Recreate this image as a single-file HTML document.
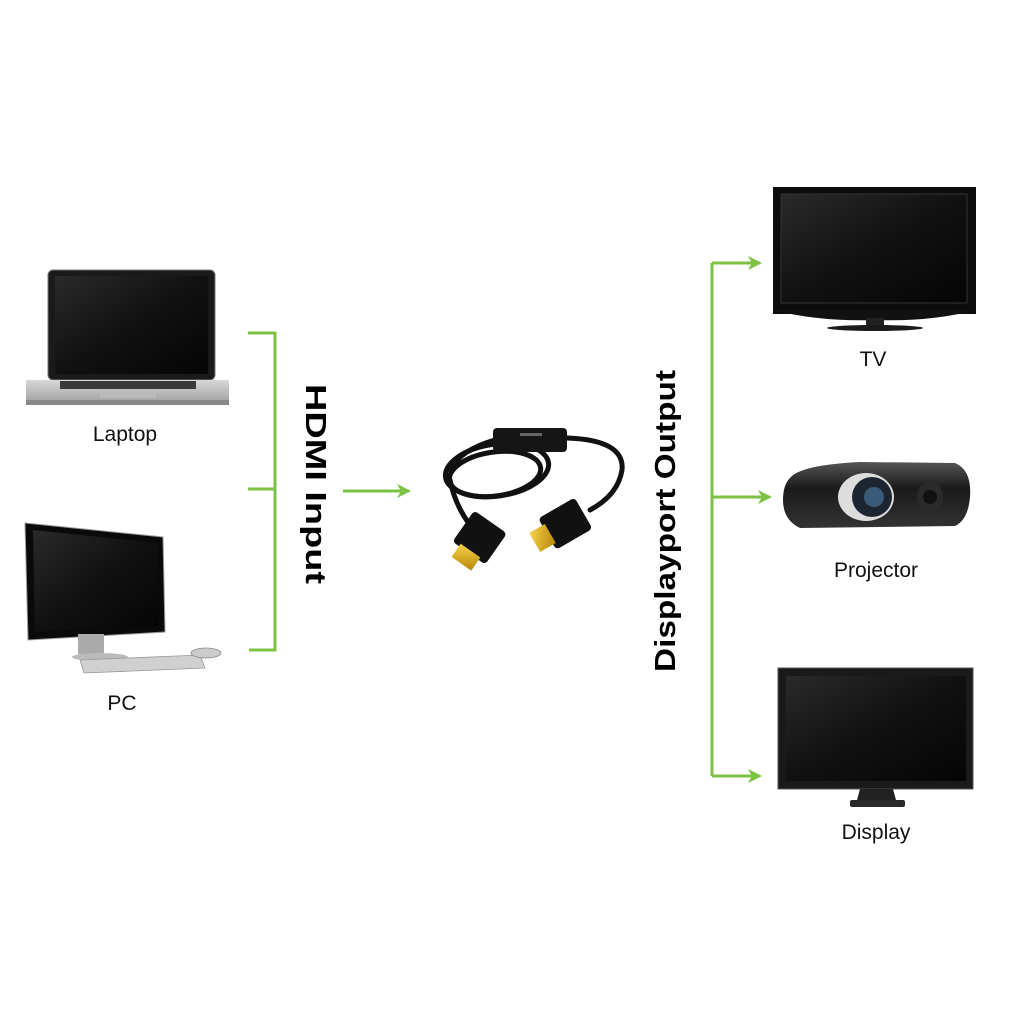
<!DOCTYPE html>
<html><head><meta charset="utf-8"><style>
html,body{margin:0;padding:0;background:#fff;}
svg{display:block;}
text{font-family:"Liberation Sans",sans-serif;}
</style></head><body>
<svg width="1024" height="1024" viewBox="0 0 1024 1024" xmlns="http://www.w3.org/2000/svg">
<defs>
<linearGradient id="scr" x1="0" y1="0" x2="1" y2="1"><stop offset="0" stop-color="#2a2a2a"/><stop offset="0.5" stop-color="#111"/><stop offset="1" stop-color="#050505"/></linearGradient>
<linearGradient id="alu" x1="0" y1="0" x2="0" y2="1"><stop offset="0" stop-color="#d8d8d8"/><stop offset="1" stop-color="#9a9a9a"/></linearGradient>
<linearGradient id="gold" x1="0" y1="0" x2="1" y2="1"><stop offset="0" stop-color="#f7d34a"/><stop offset="1" stop-color="#b8860b"/></linearGradient>
<linearGradient id="proj" x1="0" y1="0" x2="0" y2="1"><stop offset="0" stop-color="#555"/><stop offset="0.4" stop-color="#1a1a1a"/><stop offset="1" stop-color="#333"/></linearGradient>
<marker id="ah" markerWidth="14" markerHeight="14" refX="12" refY="7" orient="auto" markerUnits="userSpaceOnUse"><path d="M0,0 L14,7 L0,14 L4,7 z" fill="#7dc242"/></marker>
</defs>

<!-- Laptop -->
<rect x="48" y="270" width="167" height="110" rx="5" fill="#1a1a1a" stroke="#777" stroke-width="1"/>
<rect x="55" y="276" width="153" height="98" fill="url(#scr)"/>
<path d="M26,380 L229,380 L229,400 Q229,405 224,405 L31,405 Q26,405 26,400 Z" fill="url(#alu)"/>
<rect x="60" y="381" width="136" height="8" fill="#3a3a3a"/>
<rect x="100" y="390" width="56" height="8" fill="#bbb"/>
<rect x="26" y="400" width="203" height="5" fill="#888"/>
<text x="125" y="441" font-size="21" text-anchor="middle" fill="#111">Laptop</text>

<!-- PC -->
<path d="M25,523 L163,537 L165,632 L28,640 Z" fill="#0a0a0a" stroke="#999" stroke-width="1"/>
<path d="M33,530 L158,543 L159,626 L35,632 Z" fill="url(#scr)"/>
<rect x="78" y="634" width="26" height="20" fill="#aaa"/>
<ellipse cx="100" cy="657" rx="28" ry="4" fill="#bbb"/>
<path d="M80,660 L200,655 L205,668 L84,673 Z" fill="#d0d0d0" stroke="#999" stroke-width="0.8"/>
<ellipse cx="206" cy="653" rx="15" ry="5" fill="#ccc" stroke="#888" stroke-width="0.8"/>
<text x="122" y="710" font-size="21" text-anchor="middle" fill="#111">PC</text>

<!-- Left bracket -->
<g stroke="#7dc242" stroke-width="3" fill="none">
<path d="M248,333 L275,333 L275,650 L249,650"/>
<path d="M248,489 L275,489"/>
<path d="M343,491 L409,491" marker-end="url(#ah)"/>
</g>
<text transform="translate(306,484) rotate(90)" font-size="29" font-weight="bold" text-anchor="middle" fill="#000" textLength="200" lengthAdjust="spacingAndGlyphs">HDMI Input</text>

<!-- Cable -->
<g fill="none" stroke="#111" stroke-width="5" stroke-linecap="round">
<ellipse cx="497" cy="470" rx="52" ry="26" transform="rotate(-8 497 470)"/>
<ellipse cx="495" cy="474" rx="46" ry="22" transform="rotate(-8 495 474)"/>
<path d="M495,440 Q460,450 450,470"/>
<path d="M567,438 Q625,440 622,470 Q618,495 590,510"/>
<path d="M450,480 Q455,505 470,525"/>
</g>
<rect x="493" y="428" width="74" height="24" rx="4" fill="#151515"/>
<rect x="520" y="433" width="22" height="3" fill="#666"/>
<g transform="rotate(-30 565 525)"><rect x="545" y="506" width="42" height="36" rx="4" fill="#111"/><rect x="530" y="514" width="18" height="22" fill="url(#gold)"/></g>
<g transform="rotate(35 478 540)"><rect x="458" y="518" width="40" height="38" rx="4" fill="#111"/><rect x="466" y="553" width="24" height="16" fill="url(#gold)"/></g>

<!-- Right bracket -->
<g stroke="#7dc242" stroke-width="3" fill="none">
<path d="M712,263 L712,776"/>
<path d="M712,263 L760,263" marker-end="url(#ah)"/>
<path d="M712,497 L770,497" marker-end="url(#ah)"/>
<path d="M712,776 L760,776" marker-end="url(#ah)"/>
</g>
<text transform="translate(675,521) rotate(-90)" font-size="29" font-weight="bold" text-anchor="middle" fill="#000" textLength="302" lengthAdjust="spacingAndGlyphs">Displayport Output</text>

<!-- TV -->
<rect x="773" y="187" width="203" height="127" fill="#0c0c0c"/>
<rect x="781" y="194" width="186" height="109" fill="url(#scr)" stroke="#333" stroke-width="1"/>
<path d="M773,310 L976,310 Q930,322 876,320 Q820,322 773,310 Z" fill="#111"/>
<rect x="866" y="318" width="18" height="8" fill="#222"/>
<ellipse cx="875" cy="328" rx="48" ry="3" fill="#1a1a1a"/>
<text x="873" y="366" font-size="21" text-anchor="middle" fill="#111">TV</text>

<!-- Projector -->
<path d="M790,478 Q800,465 860,462 L955,463 Q972,470 970,497 Q968,520 955,526 L800,528 Q783,520 783,500 Q783,485 790,478 Z" fill="url(#proj)"/>
<ellipse cx="866" cy="497" rx="28" ry="24" fill="#ddd"/>
<circle cx="872" cy="497" r="20" fill="#1c2530"/>
<circle cx="874" cy="497" r="10" fill="#3a5a78"/>
<ellipse cx="930" cy="497" rx="13" ry="16" fill="#2a2a2a"/>
<circle cx="930" cy="497" r="7" fill="#111"/>
<text x="876" y="577" font-size="21" text-anchor="middle" fill="#111">Projector</text>

<!-- Display -->
<rect x="778" y="668" width="195" height="121" fill="#1a1a1a" stroke="#555" stroke-width="1"/>
<rect x="786" y="676" width="180" height="105" fill="url(#scr)"/>
<path d="M860,789 L893,789 L896,800 L857,800 Z" fill="#222"/>
<rect x="850" y="800" width="55" height="7" rx="2" fill="#2a2a2a"/>
<text x="876" y="839" font-size="21" text-anchor="middle" fill="#111">Display</text>
</svg>
</body></html>
